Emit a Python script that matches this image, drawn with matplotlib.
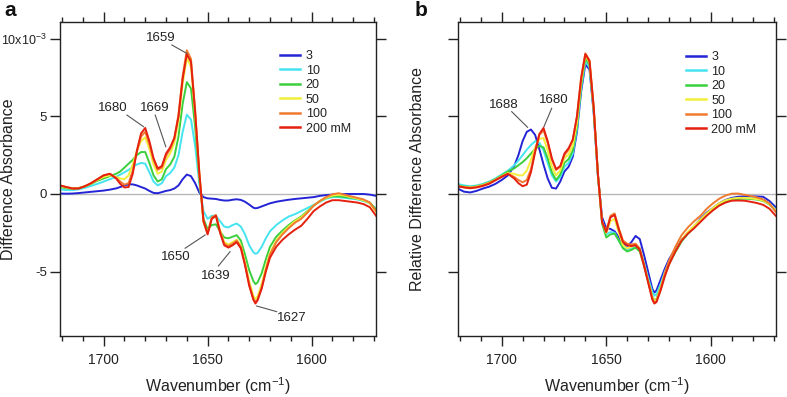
import matplotlib
matplotlib.use("Agg")
import matplotlib.pyplot as plt
from matplotlib.ticker import MultipleLocator

plt.rcParams['font.family'] = ['Liberation Sans', 'DejaVu Sans']

# wavenumber grid (cm-1), shared by both panels
wavenumber = [1721, 1718, 1715, 1712, 1709, 1706, 1703, 1700, 1697, 1694,
              1692, 1690, 1688, 1686, 1684, 1682, 1680, 1678, 1676, 1674,
              1672, 1670, 1668, 1666, 1664, 1662, 1660, 1658, 1656, 1654,
              1652, 1650, 1648, 1646, 1644, 1642, 1640, 1638, 1636, 1634,
              1632, 1630, 1628, 1627, 1626, 1624, 1622, 1620, 1617, 1614,
              1611, 1608, 1605, 1602, 1599, 1596, 1593, 1590, 1587, 1584,
              1581, 1578, 1575, 1572, 1569]

conc_labels = ["3", "10", "20", "50", "100", "200 mM"]
line_colors = ["#2424d6", "#45e4f0", "#3ccf3c", "#f2ee3a", "#f07a30", "#e4200f"]

# panel a: difference absorbance (x 1e-3)
diff_3 = [0.03, 0.02, 0.03, 0.06, 0.1, 0.14, 0.18, 0.22, 0.28, 0.36,
          0.45, 0.55, 0.62, 0.62, 0.55, 0.45, 0.35, 0.2, 0.07, 0.05,
          0.12, 0.2, 0.25, 0.35, 0.55, 0.95, 1.25, 1.15, 0.7, 0.1,
          -0.2, -0.28, -0.3, -0.32, -0.38, -0.42, -0.42, -0.37, -0.34, -0.38,
          -0.5, -0.68, -0.88, -0.92, -0.9, -0.8, -0.7, -0.6, -0.5, -0.43,
          -0.37, -0.32, -0.28, -0.24, -0.2, -0.12, -0.07, -0.04, -0.02, 0.0,
          0.0, 0.0, 0.0, -0.04, -0.12]
diff_10 = [0.3, 0.25, 0.25, 0.3, 0.4, 0.52, 0.65, 0.8, 0.95, 1.1,
           1.25, 1.4, 1.55, 1.75, 1.9, 2.0, 1.95, 1.4, 0.8, 0.55,
           0.7, 1.15, 1.35, 1.7, 2.5, 4.0, 5.1, 4.8, 3.1, 0.7,
           -1.1, -1.6, -1.4, -1.4, -1.75, -2.1, -2.15, -2.0, -1.9, -2.1,
           -2.6, -3.3, -3.75, -3.85, -3.8, -3.4, -2.85, -2.4, -2.0, -1.7,
           -1.45, -1.3, -1.1, -0.9, -0.7, -0.5, -0.3, -0.2, -0.2, -0.25,
           -0.3, -0.35, -0.45, -0.6, -0.95]
diff_20 = [0.45, 0.37, 0.33, 0.38, 0.5, 0.65, 0.85, 1.0, 1.15, 1.3,
           1.45, 1.7, 1.95, 2.2, 2.5, 2.7, 2.7, 2.0, 1.2, 0.8,
           0.95, 1.6, 1.9, 2.4, 3.7, 5.8, 7.2, 6.8, 4.3, 1.0,
           -1.6, -2.25, -2.0, -1.95, -2.4, -2.8, -2.85, -2.75, -2.65, -3.0,
           -3.9, -4.9, -5.6, -5.8, -5.7, -5.1, -4.2, -3.4, -2.75, -2.35,
           -2.0, -1.7, -1.45, -1.1, -0.75, -0.45, -0.25, -0.15, -0.15, -0.2,
           -0.25, -0.3, -0.4, -0.55, -1.0]
diff_50 = [0.5, 0.42, 0.35, 0.38, 0.5, 0.68, 0.9, 1.1, 1.2, 1.1,
           1.0, 0.95, 1.2, 1.9, 2.8, 3.4, 3.65, 2.9, 1.9, 1.3,
           1.45, 2.2, 2.6, 3.3, 4.7, 7.1, 8.75, 8.2, 5.1, 1.3,
           -1.8, -2.5, -1.55, -1.45, -2.35, -3.1, -3.25, -3.1, -2.95, -3.3,
           -4.4, -5.6, -6.55, -6.75, -6.6, -5.8, -4.7, -3.8, -3.0, -2.5,
           -2.1, -1.75, -1.5, -1.15, -0.75, -0.45, -0.25, -0.1, -0.05, -0.1,
           -0.2, -0.3, -0.4, -0.6, -1.15]
diff_100 = [0.55, 0.45, 0.37, 0.38, 0.5, 0.7, 0.95, 1.2, 1.3, 1.05,
            0.8, 0.6, 0.7, 1.5, 2.7, 3.7, 4.0, 3.2, 2.2, 1.55,
            1.7, 2.45, 2.9, 3.6, 5.1, 7.6, 9.25, 8.7, 5.4, 1.4,
            -1.8, -2.55, -1.5, -1.35, -2.4, -3.2, -3.35, -3.2, -3.0, -3.4,
            -4.5, -5.8, -6.75, -6.95, -6.8, -6.0, -4.9, -3.9, -3.1, -2.6,
            -2.2, -1.85, -1.6, -1.2, -0.75, -0.45, -0.2, -0.02, 0.05, -0.05,
            -0.15, -0.25, -0.35, -0.55, -1.1]
diff_200 = [0.55, 0.45, 0.35, 0.35, 0.5, 0.7, 0.95, 1.2, 1.3, 1.0,
            0.65, 0.42, 0.45, 1.3, 2.8, 3.9, 4.25, 3.4, 2.3, 1.65,
            1.8, 2.6, 3.0, 3.6, 5.0, 7.4, 9.0, 8.5, 5.3, 1.4,
            -1.7, -2.6, -1.6, -1.4, -2.5, -3.3, -3.45, -3.3, -3.1, -3.5,
            -4.6, -5.9, -6.8, -7.05, -6.85, -6.1, -5.0, -4.1, -3.4, -2.95,
            -2.6, -2.3, -2.05, -1.6, -1.1, -0.8, -0.55, -0.4, -0.4, -0.45,
            -0.5, -0.55, -0.65, -0.85, -1.4]

# panel b: relative difference absorbance
rel_3 = [0.35, 0.15, 0.1, 0.2, 0.35, 0.47, 0.65, 0.9, 1.2, 1.8,
         2.5, 3.4, 4.0, 4.15, 3.8, 2.9, 1.9, 1.0, 0.4, 0.35,
         0.8, 1.45, 1.75, 2.4, 4.0, 6.6, 8.35, 8.0, 5.2, 1.2,
         -1.5, -2.2, -2.25, -2.4, -2.8, -3.2, -3.35, -3.1, -2.7, -2.9,
         -3.9, -5.0, -6.1, -6.35, -6.2, -5.5, -4.8, -4.2, -3.55, -2.95,
         -2.5, -2.1, -1.6, -1.2, -0.9, -0.6, -0.38, -0.25, -0.18, -0.15,
         -0.15, -0.16, -0.18, -0.45, -0.85]
rel_10 = [0.65, 0.55, 0.5, 0.55, 0.65, 0.8, 1.0, 1.25, 1.5, 1.85,
          2.15, 2.5, 2.85, 3.15, 3.4, 3.3, 2.8, 2.0, 1.2, 0.8,
          1.1, 1.75, 2.0, 2.6, 4.2, 6.8, 8.55, 8.15, 5.3, 1.2,
          -1.7, -2.6, -2.45, -2.5, -3.0, -3.45, -3.6, -3.5, -3.3, -3.5,
          -4.4, -5.4, -6.3, -6.55, -6.45, -5.8, -5.0, -4.35, -3.65, -3.0,
          -2.55, -2.15, -1.7, -1.3, -0.95, -0.65, -0.45, -0.32, -0.27, -0.25,
          -0.27, -0.3, -0.38, -0.6, -1.0]
rel_20 = [0.55, 0.48, 0.45, 0.5, 0.6, 0.75, 0.95, 1.2, 1.45, 1.65,
          1.85, 2.05, 2.3, 2.6, 2.9, 3.1, 3.0, 2.3, 1.4, 0.9,
          1.25, 2.0, 2.25, 2.8, 4.4, 7.0, 8.75, 8.3, 5.4, 1.2,
          -1.9, -2.8, -2.6, -2.55, -3.0, -3.5, -3.7, -3.6, -3.45, -3.7,
          -4.6, -5.6, -6.6, -6.85, -6.75, -6.0, -5.2, -4.5, -3.75, -3.05,
          -2.55, -2.15, -1.75, -1.35, -1.0, -0.7, -0.5, -0.37, -0.32, -0.3,
          -0.32, -0.36, -0.45, -0.68, -1.1]
rel_50 = [0.5, 0.45, 0.42, 0.48, 0.58, 0.72, 0.92, 1.15, 1.35, 1.3,
          1.2, 1.2, 1.5, 2.2, 3.0, 3.55, 3.6, 2.8, 1.75, 1.2,
          1.5, 2.3, 2.55, 3.1, 4.6, 7.2, 8.9, 8.45, 5.5, 1.3,
          -1.8, -2.5, -1.75, -1.6, -2.5, -3.3, -3.5, -3.4, -3.25, -3.55,
          -4.55, -5.6, -6.6, -6.9, -6.8, -6.0, -5.1, -4.4, -3.65, -2.95,
          -2.45, -2.05, -1.65, -1.25, -0.9, -0.6, -0.4, -0.3, -0.25, -0.25,
          -0.28, -0.33, -0.42, -0.65, -1.05]
rel_100 = [0.5, 0.44, 0.4, 0.45, 0.55, 0.7, 0.9, 1.12, 1.3, 1.1,
           0.9, 0.75, 0.9, 1.6, 2.8, 3.8, 4.1, 3.3, 2.2, 1.55,
           1.75, 2.5, 2.85, 3.5, 5.0, 7.5, 9.05, 8.6, 5.6, 1.3,
           -1.8, -2.4, -1.4, -1.25, -2.2, -3.0, -3.2, -3.25, -3.2, -3.5,
           -4.5, -5.6, -6.7, -7.0, -6.9, -6.1, -5.1, -4.3, -3.4, -2.65,
           -2.15, -1.75, -1.4, -0.95, -0.6, -0.3, -0.1, 0.02, 0.03, -0.05,
           -0.12, -0.22, -0.35, -0.6, -1.15]
rel_200 = [0.5, 0.42, 0.37, 0.42, 0.52, 0.65, 0.88, 1.1, 1.3, 1.0,
           0.7, 0.5, 0.6, 1.4, 2.7, 3.85, 4.25, 3.4, 2.3, 1.6,
           1.8, 2.6, 2.95, 3.5, 5.0, 7.45, 9.0, 8.55, 5.55, 1.3,
           -1.8, -2.45, -1.5, -1.35, -2.3, -3.1, -3.3, -3.35, -3.3, -3.6,
           -4.6, -5.7, -6.8, -7.05, -6.95, -6.2, -5.3, -4.55, -3.7, -3.0,
           -2.55, -2.2, -1.8, -1.4, -1.05, -0.75, -0.55, -0.43, -0.42, -0.43,
           -0.5, -0.58, -0.7, -0.95, -1.4]

diff_series = [diff_3, diff_10, diff_20, diff_50, diff_100, diff_200]
rel_series = [rel_3, rel_10, rel_20, rel_50, rel_100, rel_200]

ink = "#222222"
fig = plt.figure(figsize=(7.87, 3.97), dpi=100)
ax_a = fig.add_axes([0.0762, 0.1544, 0.4016, 0.7902])
ax_b = fig.add_axes([0.5816, 0.1544, 0.4041, 0.7902])


def style_axes(ax):
    ax.set_xlim(1721, 1569)
    ax.set_ylim(-9.12, 11.07)
    ax.axhline(0, color="#b8b8b8", lw=1.0, zorder=1)
    ax.xaxis.set_major_locator(MultipleLocator(50))
    ax.xaxis.set_minor_locator(MultipleLocator(10))
    ax.set_yticks([-5, 0, 5, 10])
    ax.tick_params(which="both", direction="out", top=True, right=True,
                   color=ink, width=1.0, labelcolor=ink)
    ax.tick_params(which="major", length=7)
    ax.tick_params(which="minor", length=3.5)
    ax.tick_params(axis="x", labelsize=10, pad=5.5)
    ax.tick_params(axis="y", labelsize=9.5, pad=2.5)
    for sp in ax.spines.values():
        sp.set_linewidth(1.0)
        sp.set_color(ink)
    ax.set_xlabel("Wavenumber (cm$^{\\mathregular{-1}}$)", fontsize=11.5,
                  color=ink, labelpad=6)


for ax, series in [(ax_a, diff_series), (ax_b, rel_series)]:
    style_axes(ax)
    for vals, col, lab in zip(series, line_colors, conc_labels):
        ax.plot(wavenumber, vals, color=col, lw=1.4, label=lab, zorder=2)

ax_a.set_yticks([-5, 0, 5, 10], ["-5", "0", "5", "10x10$^{\\mathregular{-3}}$"])
ax_a.get_yticklabels()[-1].set_fontsize(9)
ax_b.set_yticklabels([])
ax_a.set_ylabel("Difference Absorbance", fontsize=11.5, color=ink)
ax_a.yaxis.set_label_coords(-0.138, 0.5)
ax_b.set_ylabel("Relative Difference Absorbance", fontsize=11.5, color=ink)
ax_b.yaxis.set_label_coords(-0.103, 0.5)

leg_kw = dict(loc="upper left", frameon=False, fontsize=9, borderpad=0,
              borderaxespad=0, handlelength=1.6, handletextpad=0.45,
              labelspacing=0.2, labelcolor=ink)
ax_a.legend(bbox_to_anchor=(0.696, 0.91), **leg_kw)
ax_b.legend(bbox_to_anchor=(0.717, 0.907), **leg_kw)
for leg in [ax_a.get_legend(), ax_b.get_legend()]:
    for ln in leg.get_lines():
        ln.set_linewidth(1.8)

# peak labels: (text, text pos, leader line start, leader line end)
notes_a = [("1659", (1672.4, 10.02), (1667.2, 9.59), (1660.0, 9.05)),
           ("1680", (1695.6, 5.51), (1688.8, 5.08), (1680.8, 4.33)),
           ("1669", (1675.6, 5.51), (1675.2, 5.08), (1670.1, 3.04)),
           ("1650", (1665.3, -4.03), (1660.8, -3.49), (1651.2, -2.64)),
           ("1639", (1646.0, -5.28), (1644.8, -4.63), (1639.2, -3.71)),
           ("1627", (1609.6, -8.0), (1626.4, -7.21), (1616.8, -7.57))]
notes_b = [("1688", (1698.8, 5.73), (1695.2, 5.30), (1687.6, 4.29)),
           ("1680", (1674.9, 6.05), (1676.1, 5.51), (1679.8, 4.33))]
for ax, notes in [(ax_a, notes_a), (ax_b, notes_b)]:
    for txt, tpos, p0, p1 in notes:
        ax.text(tpos[0], tpos[1], txt, fontsize=9.5, color=ink,
                ha="center", va="center")
        ax.plot([p0[0], p1[0]], [p0[1], p1[1]], color="#555555", lw=0.8,
                zorder=3)

fig.text(10 / 787, 1 - 11 / 397, "a", fontsize=15, fontweight="bold",
         ha="center", va="center", color="#111111")
fig.text(421 / 787, 1 - 11 / 397, "b", fontsize=15, fontweight="bold",
         ha="center", va="center", color="#111111")

fig.savefig("out.png", dpi=100)
